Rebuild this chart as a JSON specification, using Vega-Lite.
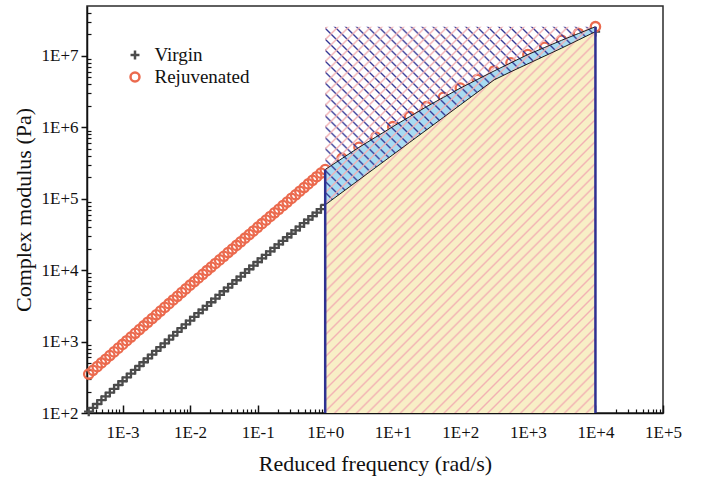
{
  "$schema": "https://vega.github.io/schema/vega-lite/v6.json",
  "width": 576,
  "height": 407,
  "autosize": {"type": "none"},
  "padding": {"left": 87, "top": 6, "right": 45, "bottom": 68},
  "background": "white",
  "config": {
    "view": {"stroke": "#2b2b2b", "strokeWidth": 1.5},
    "font": "Liberation Serif",
    "axis": {
      "labelFont": "Liberation Serif", "labelFontSize": 17, "labelColor": "#111",
      "titleFont": "Liberation Serif", "titleFontSize": 22, "titleFontWeight": "normal", "titleColor": "#111",
      "domainColor": "#111", "domainWidth": 1.5, "tickColor": "#111", "tickWidth": 1.5,
      "grid": false, "labelFlush": false, "labelOverlap": false, "labelBound": false
    }
  },
  "datasets": {
    "modulus": [
      {"f": 0.00031623, "Virgin": 104.7, "Rejuvenated": 350.8},
      {"f": 0.00036517, "Virgin": 118.3, "Rejuvenated": 395.4},
      {"f": 0.0004217, "Virgin": 133.7, "Rejuvenated": 445.7},
      {"f": 0.00048697, "Virgin": 151.0, "Rejuvenated": 502.3},
      {"f": 0.00056234, "Virgin": 171.0, "Rejuvenated": 564.9},
      {"f": 0.00064938, "Virgin": 193.2, "Rejuvenated": 636.8},
      {"f": 0.00074989, "Virgin": 218.3, "Rejuvenated": 717.8},
      {"f": 0.00086596, "Virgin": 246.6, "Rejuvenated": 809.1},
      {"f": 0.001, "Virgin": 278.6, "Rejuvenated": 912.0},
      {"f": 0.0011548, "Virgin": 314.8, "Rejuvenated": 1028},
      {"f": 0.0013335, "Virgin": 355.6, "Rejuvenated": 1159},
      {"f": 0.0015399, "Virgin": 401.8, "Rejuvenated": 1306},
      {"f": 0.0017783, "Virgin": 455.0, "Rejuvenated": 1472},
      {"f": 0.0020535, "Virgin": 514.0, "Rejuvenated": 1656},
      {"f": 0.0023714, "Virgin": 580.8, "Rejuvenated": 1866},
      {"f": 0.0027384, "Virgin": 656.1, "Rejuvenated": 2104},
      {"f": 0.0031623, "Virgin": 741.3, "Rejuvenated": 2371},
      {"f": 0.0036517, "Virgin": 837.5, "Rejuvenated": 2673},
      {"f": 0.004217, "Virgin": 946.2, "Rejuvenated": 3013},
      {"f": 0.0048697, "Virgin": 1069, "Rejuvenated": 3396},
      {"f": 0.0056234, "Virgin": 1211, "Rejuvenated": 3828},
      {"f": 0.0064938, "Virgin": 1368, "Rejuvenated": 4305},
      {"f": 0.0074989, "Virgin": 1545, "Rejuvenated": 4853},
      {"f": 0.0086596, "Virgin": 1746, "Rejuvenated": 5470},
      {"f": 0.01, "Virgin": 1972, "Rejuvenated": 6166},
      {"f": 0.011548, "Virgin": 2218, "Rejuvenated": 6934},
      {"f": 0.013335, "Virgin": 2500, "Rejuvenated": 7780},
      {"f": 0.015399, "Virgin": 2812, "Rejuvenated": 8750},
      {"f": 0.017783, "Virgin": 3162, "Rejuvenated": 9840},
      {"f": 0.020535, "Virgin": 3556, "Rejuvenated": 11040},
      {"f": 0.023714, "Virgin": 4009, "Rejuvenated": 12420},
      {"f": 0.027384, "Virgin": 4508, "Rejuvenated": 13930},
      {"f": 0.031623, "Virgin": 5070, "Rejuvenated": 15670},
      {"f": 0.036517, "Virgin": 5702, "Rejuvenated": 17620},
      {"f": 0.04217, "Virgin": 6427, "Rejuvenated": 19770},
      {"f": 0.048697, "Virgin": 7228, "Rejuvenated": 22230},
      {"f": 0.056234, "Virgin": 8128, "Rejuvenated": 25000},
      {"f": 0.064938, "Virgin": 9141, "Rejuvenated": 28050},
      {"f": 0.074989, "Virgin": 10300, "Rejuvenated": 31550},
      {"f": 0.086596, "Virgin": 11590, "Rejuvenated": 35400},
      {"f": 0.1, "Virgin": 13030, "Rejuvenated": 39810},
      {"f": 0.11548, "Virgin": 14590, "Rejuvenated": 44770},
      {"f": 0.13335, "Virgin": 16370, "Rejuvenated": 50230},
      {"f": 0.15399, "Virgin": 18320, "Rejuvenated": 56490},
      {"f": 0.17783, "Virgin": 20560, "Rejuvenated": 63530},
      {"f": 0.20535, "Virgin": 23010, "Rejuvenated": 71290},
      {"f": 0.23714, "Virgin": 25760, "Rejuvenated": 80170},
      {"f": 0.27384, "Virgin": 28910, "Rejuvenated": 89950},
      {"f": 0.31623, "Virgin": 32360, "Rejuvenated": 101200},
      {"f": 0.36517, "Virgin": 36220, "Rejuvenated": 113800},
      {"f": 0.4217, "Virgin": 40640, "Rejuvenated": 127600},
      {"f": 0.48697, "Virgin": 45500, "Rejuvenated": 143500},
      {"f": 0.56234, "Virgin": 51050, "Rejuvenated": 161400},
      {"f": 0.64938, "Virgin": 57150, "Rejuvenated": 181100},
      {"f": 0.74989, "Virgin": 63970, "Rejuvenated": 203700},
      {"f": 0.86596, "Virgin": 71780, "Rejuvenated": 228600},
      {"f": 1, "Virgin": 82220, "Rejuvenated": 257000},
      {"f": 1.7783, "Virgin": 123000, "Rejuvenated": 367300},
      {"f": 3.1623, "Virgin": 184100, "Rejuvenated": 524800},
      {"f": 5.6234, "Virgin": 275400, "Rejuvenated": 732800},
      {"f": 10, "Virgin": 412100, "Rejuvenated": 1023000},
      {"f": 17.783, "Virgin": 616600, "Rejuvenated": 1413000},
      {"f": 31.623, "Virgin": 922600, "Rejuvenated": 1950000},
      {"f": 56.234, "Virgin": 1380000, "Rejuvenated": 2630000},
      {"f": 100, "Virgin": 2065000, "Rejuvenated": 3548000},
      {"f": 177.83, "Virgin": 3090000, "Rejuvenated": 4677000},
      {"f": 316.23, "Virgin": 4624000, "Rejuvenated": 6166000},
      {"f": 562.34, "Virgin": 6026000, "Rejuvenated": 8035000},
      {"f": 1000, "Virgin": 7762000, "Rejuvenated": 10470000},
      {"f": 1778.3, "Virgin": 10000000, "Rejuvenated": 13180000},
      {"f": 3162.3, "Virgin": 12880000, "Rejuvenated": 16600000},
      {"f": 5623.4, "Virgin": 16790000, "Rejuvenated": 20650000},
      {"f": 10000, "Virgin": 21880000, "Rejuvenated": 25700000}
    ]
  },
  "data": {"name": "modulus"},
  "layer": [
    {
      "layer": [
        {
          "transform": [{"fold": ["Virgin", "Rejuvenated"], "as": ["sample", "G"]}],
          "mark": {"type": "point", "filled": false, "strokeWidth": 2.3, "size": 88, "opacity": 1},
          "encoding": {
            "x": {
              "field": "f", "type": "quantitative",
              "scale": {"type": "log", "domain": [0.000298, 100000], "nice": false},
              "axis": {
                "values": [0.001, 0.01, 0.1, 1, 10, 100, 1000, 10000, 100000],
                "labelExpr": "'1E' + (datum.value >= 1 ? '+' : '') + round(log(datum.value) / LN10)",
                "tickSize": -8, "labelPadding": 19,
                "title": "Reduced frequency (rad/s)", "titlePadding": 13
              }
            },
            "y": {
              "field": "G", "type": "quantitative",
              "scale": {"type": "log", "domain": [100, 50100000], "nice": false},
              "axis": {
                "values": [100, 1000, 10000, 100000, 1000000, 10000000],
                "labelExpr": "'1E' + (datum.value >= 1 ? '+' : '') + round(log(datum.value) / LN10)",
                "tickSize": 6, "labelPadding": 3,
                "title": "Complex modulus (Pa)", "titlePadding": 6
              }
            },
            "color": {
              "field": "sample", "type": "nominal",
              "scale": {"domain": ["Virgin", "Rejuvenated"], "range": ["#4b4b4b", "#eb6a4e"]},
              "legend": {
                "title": null, "orient": "none", "legendX": 38.5, "legendY": 39.5,
                "labelFont": "Liberation Serif", "labelFontSize": 19, "labelColor": "#111",
                "symbolStrokeWidth": 2.5, "symbolSize": 80, "labelOffset": 10, "rowPadding": 2
              }
            },
            "shape": {
              "field": "sample", "type": "nominal",
              "scale": {"domain": ["Virgin", "Rejuvenated"], "range": ["M-1,0H1M0,-1V1", "circle"]}
            }
          }
        },
        {
          "transform": [{"filter": "datum.f >= 1"}],
          "mark": {"type": "area", "color": "#a8dbf2", "opacity": 1},
          "encoding": {
            "x": {"field": "f", "type": "quantitative"},
            "y": {"field": "Virgin", "type": "quantitative", "stack": null},
            "y2": {"field": "Rejuvenated"}
          }
        },
        {
          "transform": [
            {"filter": "datum.f >= 1"},
            {"aggregate": [
              {"op": "min", "field": "f", "as": "f0"},
              {"op": "max", "field": "f", "as": "f1"},
              {"op": "max", "field": "Rejuvenated", "as": "top"}
            ]}
          ],
          "mark": {
            "type": "rect",
            "fill": {
              "gradient": "linear", "x1": 0, "y1": 1, "x2": 0.798, "y2": -0.1412,
              "stops": [
                {"offset": 0.25, "color": "#2e319200"}, {"offset": 0.2528, "color": "#2e3192"}, {"offset": 0.2556, "color": "#2e319200"},
                {"offset": 0.2667, "color": "#2e319200"}, {"offset": 0.2695, "color": "#2e3192"}, {"offset": 0.2723, "color": "#2e319200"},
                {"offset": 0.2833, "color": "#2e319200"}, {"offset": 0.2861, "color": "#2e3192"}, {"offset": 0.2889, "color": "#2e319200"},
                {"offset": 0.3, "color": "#2e319200"}, {"offset": 0.3028, "color": "#2e3192"}, {"offset": 0.3056, "color": "#2e319200"},
                {"offset": 0.3167, "color": "#2e319200"}, {"offset": 0.3195, "color": "#2e3192"}, {"offset": 0.3223, "color": "#2e319200"},
                {"offset": 0.3333, "color": "#2e319200"}, {"offset": 0.3361, "color": "#2e3192"}, {"offset": 0.3389, "color": "#2e319200"},
                {"offset": 0.35, "color": "#2e319200"}, {"offset": 0.3528, "color": "#2e3192"}, {"offset": 0.3556, "color": "#2e319200"},
                {"offset": 0.3667, "color": "#2e319200"}, {"offset": 0.3695, "color": "#2e3192"}, {"offset": 0.3723, "color": "#2e319200"},
                {"offset": 0.3833, "color": "#2e319200"}, {"offset": 0.3861, "color": "#2e3192"}, {"offset": 0.3889, "color": "#2e319200"},
                {"offset": 0.4, "color": "#2e319200"}, {"offset": 0.4028, "color": "#2e3192"}, {"offset": 0.4056, "color": "#2e319200"},
                {"offset": 0.4167, "color": "#2e319200"}, {"offset": 0.4195, "color": "#2e3192"}, {"offset": 0.4223, "color": "#2e319200"},
                {"offset": 0.4333, "color": "#2e319200"}, {"offset": 0.4361, "color": "#2e3192"}, {"offset": 0.4389, "color": "#2e319200"},
                {"offset": 0.45, "color": "#2e319200"}, {"offset": 0.4528, "color": "#2e3192"}, {"offset": 0.4556, "color": "#2e319200"},
                {"offset": 0.4667, "color": "#2e319200"}, {"offset": 0.4695, "color": "#2e3192"}, {"offset": 0.4723, "color": "#2e319200"},
                {"offset": 0.4833, "color": "#2e319200"}, {"offset": 0.4861, "color": "#2e3192"}, {"offset": 0.4889, "color": "#2e319200"},
                {"offset": 0.5, "color": "#2e319200"}, {"offset": 0.5028, "color": "#2e3192"}, {"offset": 0.5056, "color": "#2e319200"},
                {"offset": 0.5167, "color": "#2e319200"}, {"offset": 0.5195, "color": "#2e3192"}, {"offset": 0.5223, "color": "#2e319200"},
                {"offset": 0.5333, "color": "#2e319200"}, {"offset": 0.5361, "color": "#2e3192"}, {"offset": 0.5389, "color": "#2e319200"},
                {"offset": 0.55, "color": "#2e319200"}, {"offset": 0.5528, "color": "#2e3192"}, {"offset": 0.5556, "color": "#2e319200"},
                {"offset": 0.5667, "color": "#2e319200"}, {"offset": 0.5695, "color": "#2e3192"}, {"offset": 0.5723, "color": "#2e319200"},
                {"offset": 0.5833, "color": "#2e319200"}, {"offset": 0.5861, "color": "#2e3192"}, {"offset": 0.5889, "color": "#2e319200"},
                {"offset": 0.6, "color": "#2e319200"}, {"offset": 0.6028, "color": "#2e3192"}, {"offset": 0.6056, "color": "#2e319200"},
                {"offset": 0.6167, "color": "#2e319200"}, {"offset": 0.6195, "color": "#2e3192"}, {"offset": 0.6223, "color": "#2e319200"},
                {"offset": 0.6333, "color": "#2e319200"}, {"offset": 0.6361, "color": "#2e3192"}, {"offset": 0.6389, "color": "#2e319200"},
                {"offset": 0.65, "color": "#2e319200"}, {"offset": 0.6528, "color": "#2e3192"}, {"offset": 0.6556, "color": "#2e319200"},
                {"offset": 0.6667, "color": "#2e319200"}, {"offset": 0.6695, "color": "#2e3192"}, {"offset": 0.6723, "color": "#2e319200"},
                {"offset": 0.6833, "color": "#2e319200"}, {"offset": 0.6861, "color": "#2e3192"}, {"offset": 0.6889, "color": "#2e319200"},
                {"offset": 0.7, "color": "#2e319200"}, {"offset": 0.7028, "color": "#2e3192"}, {"offset": 0.7056, "color": "#2e319200"},
                {"offset": 0.7167, "color": "#2e319200"}, {"offset": 0.7195, "color": "#2e3192"}, {"offset": 0.7223, "color": "#2e319200"},
                {"offset": 0.7333, "color": "#2e319200"}, {"offset": 0.7361, "color": "#2e3192"}, {"offset": 0.7389, "color": "#2e319200"},
                {"offset": 0.75, "color": "#2e319200"}, {"offset": 0.7528, "color": "#2e3192"}, {"offset": 0.7556, "color": "#2e319200"},
                {"offset": 0.7667, "color": "#2e319200"}, {"offset": 0.7695, "color": "#2e3192"}, {"offset": 0.7723, "color": "#2e319200"},
                {"offset": 0.7833, "color": "#2e319200"}, {"offset": 0.7861, "color": "#2e3192"}, {"offset": 0.7889, "color": "#2e319200"},
                {"offset": 0.8, "color": "#2e319200"}, {"offset": 0.8028, "color": "#2e3192"}, {"offset": 0.8056, "color": "#2e319200"},
                {"offset": 0.8167, "color": "#2e319200"}, {"offset": 0.8195, "color": "#2e3192"}, {"offset": 0.8223, "color": "#2e319200"},
                {"offset": 0.8333, "color": "#2e319200"}, {"offset": 0.8361, "color": "#2e3192"}, {"offset": 0.8389, "color": "#2e319200"},
                {"offset": 0.85, "color": "#2e319200"}, {"offset": 0.8528, "color": "#2e3192"}, {"offset": 0.8556, "color": "#2e319200"},
                {"offset": 0.8667, "color": "#2e319200"}, {"offset": 0.8695, "color": "#2e3192"}, {"offset": 0.8723, "color": "#2e319200"},
                {"offset": 0.8833, "color": "#2e319200"}, {"offset": 0.8861, "color": "#2e3192"}, {"offset": 0.8889, "color": "#2e319200"},
                {"offset": 0.9, "color": "#2e319200"}, {"offset": 0.9028, "color": "#2e3192"}, {"offset": 0.9056, "color": "#2e319200"},
                {"offset": 0.9167, "color": "#2e319200"}, {"offset": 0.9195, "color": "#2e3192"}, {"offset": 0.9223, "color": "#2e319200"},
                {"offset": 0.9333, "color": "#2e319200"}, {"offset": 0.9361, "color": "#2e3192"}, {"offset": 0.9389, "color": "#2e319200"},
                {"offset": 0.95, "color": "#2e319200"}, {"offset": 0.9528, "color": "#2e3192"}, {"offset": 0.9556, "color": "#2e319200"},
                {"offset": 0.9667, "color": "#2e319200"}, {"offset": 0.9695, "color": "#2e3192"}, {"offset": 0.9723, "color": "#2e319200"},
                {"offset": 0.9833, "color": "#2e319200"}, {"offset": 0.9861, "color": "#2e3192"}, {"offset": 0.9889, "color": "#2e319200"}
              ]
            }
          },
          "encoding": {
            "x": {"field": "f0", "type": "quantitative"},
            "x2": {"field": "f1"},
            "y": {"field": "top", "type": "quantitative", "stack": null},
            "y2": {"value": "height"}
          }
        },
        {
          "transform": [{"filter": "datum.f >= 1"}],
          "mark": {"type": "area", "color": "#f8efc6", "opacity": 1},
          "encoding": {
            "x": {"field": "f", "type": "quantitative"},
            "y": {"field": "Virgin", "type": "quantitative", "stack": null},
            "y2": {"value": "height"}
          }
        },
        {
          "transform": [
            {"filter": "datum.f >= 1"},
            {"aggregate": [
              {"op": "min", "field": "f", "as": "f0"},
              {"op": "max", "field": "f", "as": "f1"},
              {"op": "max", "field": "Rejuvenated", "as": "top"}
            ]}
          ],
          "mark": {
            "type": "rect",
            "fill": {
              "gradient": "linear", "x1": 0, "y1": 0, "x2": 0.798, "y2": 1.1412,
              "stops": [
                {"offset": 0, "color": "#f2b0b300"}, {"offset": 0.003, "color": "#f2b0b3"}, {"offset": 0.006, "color": "#f2b0b300"},
                {"offset": 0.0167, "color": "#f2b0b300"}, {"offset": 0.0197, "color": "#f2b0b3"}, {"offset": 0.0227, "color": "#f2b0b300"},
                {"offset": 0.0333, "color": "#f2b0b300"}, {"offset": 0.0363, "color": "#f2b0b3"}, {"offset": 0.0393, "color": "#f2b0b300"},
                {"offset": 0.05, "color": "#f2b0b300"}, {"offset": 0.053, "color": "#f2b0b3"}, {"offset": 0.056, "color": "#f2b0b300"},
                {"offset": 0.0667, "color": "#f2b0b300"}, {"offset": 0.0697, "color": "#f2b0b3"}, {"offset": 0.0727, "color": "#f2b0b300"},
                {"offset": 0.0833, "color": "#f2b0b300"}, {"offset": 0.0863, "color": "#f2b0b3"}, {"offset": 0.0893, "color": "#f2b0b300"},
                {"offset": 0.1, "color": "#f2b0b300"}, {"offset": 0.103, "color": "#f2b0b3"}, {"offset": 0.106, "color": "#f2b0b300"},
                {"offset": 0.1167, "color": "#f2b0b300"}, {"offset": 0.1197, "color": "#f2b0b3"}, {"offset": 0.1227, "color": "#f2b0b300"},
                {"offset": 0.1333, "color": "#f2b0b300"}, {"offset": 0.1363, "color": "#f2b0b3"}, {"offset": 0.1393, "color": "#f2b0b300"},
                {"offset": 0.15, "color": "#f2b0b300"}, {"offset": 0.153, "color": "#f2b0b3"}, {"offset": 0.156, "color": "#f2b0b300"},
                {"offset": 0.1667, "color": "#f2b0b300"}, {"offset": 0.1697, "color": "#f2b0b3"}, {"offset": 0.1727, "color": "#f2b0b300"},
                {"offset": 0.1833, "color": "#f2b0b300"}, {"offset": 0.1863, "color": "#f2b0b3"}, {"offset": 0.1893, "color": "#f2b0b300"},
                {"offset": 0.2, "color": "#f2b0b300"}, {"offset": 0.203, "color": "#f2b0b3"}, {"offset": 0.206, "color": "#f2b0b300"},
                {"offset": 0.2167, "color": "#f2b0b300"}, {"offset": 0.2197, "color": "#f2b0b3"}, {"offset": 0.2227, "color": "#f2b0b300"},
                {"offset": 0.2333, "color": "#f2b0b300"}, {"offset": 0.2363, "color": "#f2b0b3"}, {"offset": 0.2393, "color": "#f2b0b300"},
                {"offset": 0.25, "color": "#f2b0b300"}, {"offset": 0.253, "color": "#f2b0b3"}, {"offset": 0.256, "color": "#f2b0b300"},
                {"offset": 0.2667, "color": "#f2b0b300"}, {"offset": 0.2697, "color": "#f2b0b3"}, {"offset": 0.2727, "color": "#f2b0b300"},
                {"offset": 0.2833, "color": "#f2b0b300"}, {"offset": 0.2863, "color": "#f2b0b3"}, {"offset": 0.2893, "color": "#f2b0b300"},
                {"offset": 0.3, "color": "#f2b0b300"}, {"offset": 0.303, "color": "#f2b0b3"}, {"offset": 0.306, "color": "#f2b0b300"},
                {"offset": 0.3167, "color": "#f2b0b300"}, {"offset": 0.3197, "color": "#f2b0b3"}, {"offset": 0.3227, "color": "#f2b0b300"},
                {"offset": 0.3333, "color": "#f2b0b300"}, {"offset": 0.3363, "color": "#f2b0b3"}, {"offset": 0.3393, "color": "#f2b0b300"},
                {"offset": 0.35, "color": "#f2b0b300"}, {"offset": 0.353, "color": "#f2b0b3"}, {"offset": 0.356, "color": "#f2b0b300"},
                {"offset": 0.3667, "color": "#f2b0b300"}, {"offset": 0.3697, "color": "#f2b0b3"}, {"offset": 0.3727, "color": "#f2b0b300"},
                {"offset": 0.3833, "color": "#f2b0b300"}, {"offset": 0.3863, "color": "#f2b0b3"}, {"offset": 0.3893, "color": "#f2b0b300"},
                {"offset": 0.4, "color": "#f2b0b300"}, {"offset": 0.403, "color": "#f2b0b3"}, {"offset": 0.406, "color": "#f2b0b300"},
                {"offset": 0.4167, "color": "#f2b0b300"}, {"offset": 0.4197, "color": "#f2b0b3"}, {"offset": 0.4227, "color": "#f2b0b300"},
                {"offset": 0.4333, "color": "#f2b0b300"}, {"offset": 0.4363, "color": "#f2b0b3"}, {"offset": 0.4393, "color": "#f2b0b300"},
                {"offset": 0.45, "color": "#f2b0b300"}, {"offset": 0.453, "color": "#f2b0b3"}, {"offset": 0.456, "color": "#f2b0b300"},
                {"offset": 0.4667, "color": "#f2b0b300"}, {"offset": 0.4697, "color": "#f2b0b3"}, {"offset": 0.4727, "color": "#f2b0b300"},
                {"offset": 0.4833, "color": "#f2b0b300"}, {"offset": 0.4863, "color": "#f2b0b3"}, {"offset": 0.4893, "color": "#f2b0b300"},
                {"offset": 0.5, "color": "#f2b0b300"}, {"offset": 0.503, "color": "#f2b0b3"}, {"offset": 0.506, "color": "#f2b0b300"},
                {"offset": 0.5167, "color": "#f2b0b300"}, {"offset": 0.5197, "color": "#f2b0b3"}, {"offset": 0.5227, "color": "#f2b0b300"},
                {"offset": 0.5333, "color": "#f2b0b300"}, {"offset": 0.5363, "color": "#f2b0b3"}, {"offset": 0.5393, "color": "#f2b0b300"},
                {"offset": 0.55, "color": "#f2b0b300"}, {"offset": 0.553, "color": "#f2b0b3"}, {"offset": 0.556, "color": "#f2b0b300"},
                {"offset": 0.5667, "color": "#f2b0b300"}, {"offset": 0.5697, "color": "#f2b0b3"}, {"offset": 0.5727, "color": "#f2b0b300"},
                {"offset": 0.5833, "color": "#f2b0b300"}, {"offset": 0.5863, "color": "#f2b0b3"}, {"offset": 0.5893, "color": "#f2b0b300"},
                {"offset": 0.6, "color": "#f2b0b300"}, {"offset": 0.603, "color": "#f2b0b3"}, {"offset": 0.606, "color": "#f2b0b300"},
                {"offset": 0.6167, "color": "#f2b0b300"}, {"offset": 0.6197, "color": "#f2b0b3"}, {"offset": 0.6227, "color": "#f2b0b300"},
                {"offset": 0.6333, "color": "#f2b0b300"}, {"offset": 0.6363, "color": "#f2b0b3"}, {"offset": 0.6393, "color": "#f2b0b300"},
                {"offset": 0.65, "color": "#f2b0b300"}, {"offset": 0.653, "color": "#f2b0b3"}, {"offset": 0.656, "color": "#f2b0b300"},
                {"offset": 0.6667, "color": "#f2b0b300"}, {"offset": 0.6697, "color": "#f2b0b3"}, {"offset": 0.6727, "color": "#f2b0b300"},
                {"offset": 0.6833, "color": "#f2b0b300"}, {"offset": 0.6863, "color": "#f2b0b3"}, {"offset": 0.6893, "color": "#f2b0b300"},
                {"offset": 0.7, "color": "#f2b0b300"}, {"offset": 0.703, "color": "#f2b0b3"}, {"offset": 0.706, "color": "#f2b0b300"},
                {"offset": 0.7167, "color": "#f2b0b300"}, {"offset": 0.7197, "color": "#f2b0b3"}, {"offset": 0.7227, "color": "#f2b0b300"},
                {"offset": 0.7333, "color": "#f2b0b300"}, {"offset": 0.7363, "color": "#f2b0b3"}, {"offset": 0.7393, "color": "#f2b0b300"},
                {"offset": 0.75, "color": "#f2b0b300"}, {"offset": 0.753, "color": "#f2b0b3"}, {"offset": 0.756, "color": "#f2b0b300"},
                {"offset": 0.7667, "color": "#f2b0b300"}, {"offset": 0.7697, "color": "#f2b0b3"}, {"offset": 0.7727, "color": "#f2b0b300"},
                {"offset": 0.7833, "color": "#f2b0b300"}, {"offset": 0.7863, "color": "#f2b0b3"}, {"offset": 0.7893, "color": "#f2b0b300"},
                {"offset": 0.8, "color": "#f2b0b300"}, {"offset": 0.803, "color": "#f2b0b3"}, {"offset": 0.806, "color": "#f2b0b300"},
                {"offset": 0.8167, "color": "#f2b0b300"}, {"offset": 0.8197, "color": "#f2b0b3"}, {"offset": 0.8227, "color": "#f2b0b300"},
                {"offset": 0.8333, "color": "#f2b0b300"}, {"offset": 0.8363, "color": "#f2b0b3"}, {"offset": 0.8393, "color": "#f2b0b300"},
                {"offset": 0.85, "color": "#f2b0b300"}, {"offset": 0.853, "color": "#f2b0b3"}, {"offset": 0.856, "color": "#f2b0b300"},
                {"offset": 0.8667, "color": "#f2b0b300"}, {"offset": 0.8697, "color": "#f2b0b3"}, {"offset": 0.8727, "color": "#f2b0b300"},
                {"offset": 0.8833, "color": "#f2b0b300"}, {"offset": 0.8863, "color": "#f2b0b3"}, {"offset": 0.8893, "color": "#f2b0b300"},
                {"offset": 0.9, "color": "#f2b0b300"}, {"offset": 0.903, "color": "#f2b0b3"}, {"offset": 0.906, "color": "#f2b0b300"},
                {"offset": 0.9167, "color": "#f2b0b300"}, {"offset": 0.9197, "color": "#f2b0b3"}, {"offset": 0.9227, "color": "#f2b0b300"},
                {"offset": 0.9333, "color": "#f2b0b300"}, {"offset": 0.9363, "color": "#f2b0b3"}, {"offset": 0.9393, "color": "#f2b0b300"},
                {"offset": 0.95, "color": "#f2b0b300"}, {"offset": 0.953, "color": "#f2b0b3"}, {"offset": 0.956, "color": "#f2b0b300"},
                {"offset": 0.9667, "color": "#f2b0b300"}, {"offset": 0.9697, "color": "#f2b0b3"}, {"offset": 0.9727, "color": "#f2b0b300"},
                {"offset": 0.9833, "color": "#f2b0b300"}, {"offset": 0.9863, "color": "#f2b0b3"}, {"offset": 0.9893, "color": "#f2b0b300"}
              ]
            }
          },
          "encoding": {
            "x": {"field": "f0", "type": "quantitative"},
            "x2": {"field": "f1"},
            "y": {"field": "top", "type": "quantitative", "stack": null},
            "y2": {"value": "height"}
          }
        },
        {
          "transform": [{"filter": "datum.f >= 1"}],
          "mark": {"type": "line", "color": "#1e1e1e", "strokeWidth": 1},
          "encoding": {
            "x": {"field": "f", "type": "quantitative"},
            "y": {"field": "Virgin", "type": "quantitative"}
          }
        },
        {
          "transform": [{"filter": "datum.f >= 1"}],
          "mark": {"type": "line", "color": "#1e1e1e", "strokeWidth": 1},
          "encoding": {
            "x": {"field": "f", "type": "quantitative"},
            "y": {"field": "Rejuvenated", "type": "quantitative"}
          }
        },
        {
          "transform": [{"filter": "datum.f == 1 || datum.f == 10000"}],
          "mark": {"type": "rule", "color": "#2e3192", "strokeWidth": 2.5},
          "encoding": {
            "x": {"field": "f", "type": "quantitative"},
            "y": {"field": "Rejuvenated", "type": "quantitative"},
            "y2": {"value": "height"}
          }
        }
      ]
    },
    {
      "mark": {"type": "point", "opacity": 0},
      "encoding": {
        "x": {
          "field": "f", "type": "quantitative",
          "axis": {
            "orient": "bottom", "labels": false, "domain": false, "title": null, "tickSize": -4, "tickWidth": 1.2,
            "values": [0.0003, 0.0004, 0.0005, 0.0006, 0.0007, 0.0008, 0.0009,
                       0.002, 0.003, 0.004, 0.005, 0.006, 0.007, 0.008, 0.009,
                       0.02, 0.03, 0.04, 0.05, 0.06, 0.07, 0.08, 0.09,
                       0.2, 0.3, 0.4, 0.5, 0.6, 0.7, 0.8, 0.9,
                       2, 3, 4, 5, 6, 7, 8, 9,
                       20, 30, 40, 50, 60, 70, 80, 90,
                       200, 300, 400, 500, 600, 700, 800, 900,
                       2000, 3000, 4000, 5000, 6000, 7000, 8000, 9000,
                       20000, 30000, 40000, 50000, 60000, 70000, 80000, 90000]
          }
        },
        "y": {
          "field": "Virgin", "type": "quantitative",
          "axis": {
            "orient": "left", "labels": false, "domain": false, "title": null, "tickSize": -4, "tickWidth": 1.2,
            "values": [200, 300, 400, 500, 600, 700, 800, 900,
                       2000, 3000, 4000, 5000, 6000, 7000, 8000, 9000,
                       20000, 30000, 40000, 50000, 60000, 70000, 80000, 90000,
                       200000, 300000, 400000, 500000, 600000, 700000, 800000, 900000,
                       2000000, 3000000, 4000000, 5000000, 6000000, 7000000, 8000000, 9000000,
                       20000000, 30000000, 40000000]
          }
        }
      }
    }
  ],
  "resolve": {"axis": {"x": "independent", "y": "independent"}}
}
